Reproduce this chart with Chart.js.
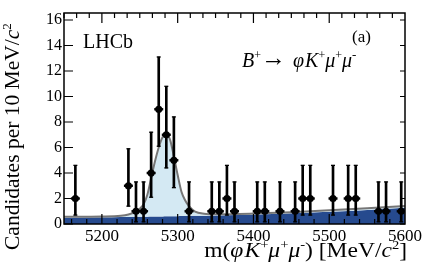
<!DOCTYPE html>
<html>
<head>
<meta charset="utf-8">
<script src="https://cdn.jsdelivr.net/npm/chart.js@4.4.1/dist/chart.umd.min.js"></script>
<style>
    html, body { margin: 0; padding: 0; background: #fff; }
</style>
</head>
<body>
<canvas id="massChart" width="427" height="267"></canvas>
<script>
// bin centres (MeV/c^2) and candidates per 10 MeV/c^2
const binMass = [5165, 5235, 5245, 5255, 5265, 5275, 5285, 5295, 5315, 5345, 5355, 5365, 5375,
                 5405, 5415, 5435, 5455, 5465, 5475, 5505, 5525, 5535, 5565, 5575, 5595];
const candidates = [2, 3, 1, 1, 4, 9, 7, 5, 1, 1, 1, 2, 1,
                    1, 1, 1, 1, 2, 2, 2, 2, 2, 1, 1, 1];
// lower / upper ends of the (poisson) error bars
const errLow = [0.7, 1.4, 0.17, 0.17, 2.1, 6.1, 4.4, 2.85, 0.17, 0.17, 0.17, 0.7, 0.17,
                0.17, 0.17, 0.17, 0.17, 0.7, 0.7, 0.7, 0.7, 0.7, 0.17, 0.17, 0.17];
const errHigh = [4.6, 5.9, 3.3, 3.3, 7.2, 13.1, 10.8, 8.4, 3.3, 3.3, 3.3, 4.6, 3.3,
                 3.3, 3.3, 3.3, 3.3, 4.6, 4.6, 4.6, 4.6, 4.6, 3.3, 3.3, 3.3];

// fit curves
const curveMass = [5150, 5200, 5225, 5235, 5245, 5250, 5255, 5260, 5265, 5270, 5275, 5280, 5285,
                   5290, 5295, 5300, 5305, 5310, 5315, 5323, 5335, 5350, 5400, 5450, 5500, 5550, 5600];
const bkgCurve = [0.50, 0.52, 0.54, 0.55, 0.56, 0.56, 0.57, 0.57, 0.58, 0.58, 0.59, 0.59, 0.60,
                  0.60, 0.61, 0.61, 0.62, 0.62, 0.63, 0.64, 0.65, 0.67, 0.74, 0.84, 0.96, 1.10, 1.27];
const totalCurve = [0.56, 0.58, 0.64, 0.74, 0.97, 1.2, 1.55, 2.3, 3.6, 4.9, 6.0, 6.8, 7.1,
                    6.6, 5.3, 3.84, 2.53, 1.85, 1.4, 0.97, 0.8, 0.76, 0.82, 0.93, 1.07, 1.23, 1.42];

const massTicks = [5200, 5300, 5400, 5500, 5600];
const countTicks = [0, 2, 4, 6, 8, 10, 12, 14, 16];

const SERIF = '"Liberation Serif", "DejaVu Serif", serif';

function richWidth(ctx, parts) {
    let w = 0;
    for (const p of parts) {
        ctx.font = `${p.italic ? 'italic ' : ''}${p.size}px ${SERIF}`;
        w += ctx.measureText(p.t).width + (p.gap || 0);
    }
    return w;
}

function drawRich(ctx, parts, x, y) {
    for (const p of parts) {
        ctx.font = `${p.italic ? 'italic ' : ''}${p.size}px ${SERIF}`;
        ctx.fillText(p.t, x, y + (p.dy || 0));
        x += ctx.measureText(p.t).width + (p.gap || 0);
    }
    return x;
}

// frame, inward ticks and the text labels
const framePlugin = {
    id: 'frame',
    afterDraw(chart) {
        const { ctx, chartArea: a, scales } = chart;
        const xs = scales.x, ys = scales.y;
        ctx.save();
        ctx.strokeStyle = '#000';
        ctx.lineWidth = 1.5;
        ctx.strokeRect(a.left, a.top, a.right - a.left, a.bottom - a.top);

        ctx.lineWidth = 1.2;
        ctx.beginPath();
        // bottom axis: minor every 20, major every 100
        for (let m = 5160; m < 5600; m += 20) {
            const px = xs.getPixelForValue(m);
            const len = massTicks.includes(m) ? 10 : 5;
            ctx.moveTo(px, a.bottom); ctx.lineTo(px, a.bottom - len);
        }
        // top axis
        for (let k = 0; k < 27; k++) {
            const m = 5150 + k * 100 / 6;
            const px = xs.getPixelForValue(m);
            const len = (k % 6 === 3) ? 10 : 5;
            ctx.moveTo(px, a.top); ctx.lineTo(px, a.top + len);
        }
        for (const v of countTicks) {
            const py = ys.getPixelForValue(v);
            ctx.moveTo(a.left, py); ctx.lineTo(a.left + 9, py);
            ctx.moveTo(a.right, py); ctx.lineTo(a.right - 5, py);
        }
        ctx.stroke();

        ctx.fillStyle = '#000';
        ctx.textBaseline = 'alphabetic';
        ctx.textAlign = 'left';

        ctx.font = `20px ${SERIF}`;
        ctx.fillText('LHCb', 83, 48);
        ctx.font = `17px ${SERIF}`;
        ctx.fillText('(a)', 352, 42);

        drawRich(ctx, [
            { t: 'B', size: 20, italic: true },
            { t: '+', size: 12, dy: -8 },
            { t: '\u2192', size: 25, dy: -1, gap: 7 },
            { t: '\u03C6', size: 20, italic: true, gap: 1 },
            { t: 'K', size: 20, italic: true },
            { t: '+', size: 12, dy: -8 },
            { t: '\u03BC', size: 20, italic: true },
            { t: '+', size: 12, dy: -8 },
            { t: '\u03BC', size: 20, italic: true },
            { t: '-', size: 13, dy: -8 }
        ], 242, 67);

        const xTitle = [
            { t: 'm(', size: 21 },
            { t: '\u03C6', size: 21, italic: true, gap: 1 },
            { t: 'K', size: 21, italic: true },
            { t: '+', size: 13, dy: -8 },
            { t: '\u03BC', size: 21, italic: true },
            { t: '+', size: 13, dy: -8 },
            { t: '\u03BC', size: 21, italic: true },
            { t: '-', size: 13, dy: -8 },
            { t: ') [MeV/', size: 21 },
            { t: 'c', size: 21, italic: true },
            { t: '2', size: 13, dy: -8 },
            { t: ']', size: 21 }
        ];
        // the reference lettering is a little wider than Liberation Serif
        const sx = 1.12;
        ctx.save();
        ctx.translate(407 - richWidth(ctx, xTitle) * sx, 257);
        ctx.scale(sx, 1);
        drawRich(ctx, xTitle, 0, 0);
        ctx.restore();

        const yTitle = [
            { t: 'Candidates per 10 MeV/', size: 21.5 },
            { t: 'c', size: 21.5, italic: true },
            { t: '2', size: 13, dy: -8 }
        ];
        ctx.translate(19, 250);
        ctx.rotate(-Math.PI / 2);
        drawRich(ctx, yTitle, 0, 0);
        ctx.restore();
    }
};

const pointData = binMass.map((m, i) => ({ x: m, y: candidates[i] }));
const barData = binMass.map((m, i) => ({ x: m, y: [errLow[i], errHigh[i]] }));
const capData = binMass.flatMap((m, i) => [{ x: m, y: errLow[i] }, { x: m, y: errHigh[i] }]);

new Chart(document.getElementById('massChart').getContext('2d'), {
    type: 'scatter',
    data: {
        datasets: [
            {
                type: 'line',
                data: curveMass.map((m, i) => ({ x: m, y: bkgCurve[i] })),
                borderWidth: 0,
                borderColor: 'rgba(0,0,0,0)',
                backgroundColor: 'rgb(38, 74, 142)',
                fill: 'origin',
                pointRadius: 0,
                cubicInterpolationMode: 'monotone',
                order: 5
            },
            {
                type: 'line',
                data: curveMass.map((m, i) => ({ x: m, y: totalCurve[i] })),
                borderWidth: 2,
                borderColor: 'rgb(118, 118, 118)',
                backgroundColor: 'rgb(212, 233, 243)',
                fill: '-1',
                pointRadius: 0,
                cubicInterpolationMode: 'monotone',
                order: 4
            },
            {
                type: 'bar',
                data: barData,
                backgroundColor: '#000',
                barThickness: 2,
                grouped: false,
                order: 2
            },
            {
                data: capData,
                pointStyle: 'line',
                pointRadius: 2,
                borderWidth: 1.3,
                borderColor: '#000',
                order: 2
            },
            {
                data: pointData,
                pointStyle: 'line',
                pointRadius: 4.5,
                borderWidth: 2.4,
                borderColor: '#000',
                order: 1
            },
            {
                data: pointData,
                pointStyle: 'circle',
                pointRadius: 3.6,
                borderWidth: 0,
                backgroundColor: '#000',
                order: 0
            }
        ]
    },
    options: {
        responsive: false,
        animation: false,
        events: [],
        layout: { padding: { top: 13, right: 22, left: 0, bottom: 0 } },
        plugins: {
            legend: { display: false },
            tooltip: { enabled: false }
        },
        scales: {
            x: {
                type: 'linear',
                min: 5150,
                max: 5600,
                offset: false,
                grid: { display: false, drawTicks: false },
                border: { display: false },
                ticks: {
                    color: '#000',
                    font: { family: SERIF, size: 17 },
                    padding: 2,
                    maxRotation: 0,
                    autoSkip: false,
                    callback: (v) => String(v)
                },
                afterBuildTicks: (s) => { s.ticks = massTicks.map(v => ({ value: v })); },
                afterFit: (s) => { s.height = 43; }
            },
            y: {
                min: 0,
                max: 16.55,
                grid: { display: false, drawTicks: false },
                border: { display: false },
                ticks: {
                    color: '#000',
                    font: { family: SERIF, size: 16 },
                    padding: 2,
                    callback: (v) => String(v)
                },
                afterBuildTicks: (s) => { s.ticks = countTicks.map(v => ({ value: v })); },
                afterFit: (s) => { s.width = 64; }
            }
        }
    },
    plugins: [framePlugin]
});
</script>
</body>
</html>
